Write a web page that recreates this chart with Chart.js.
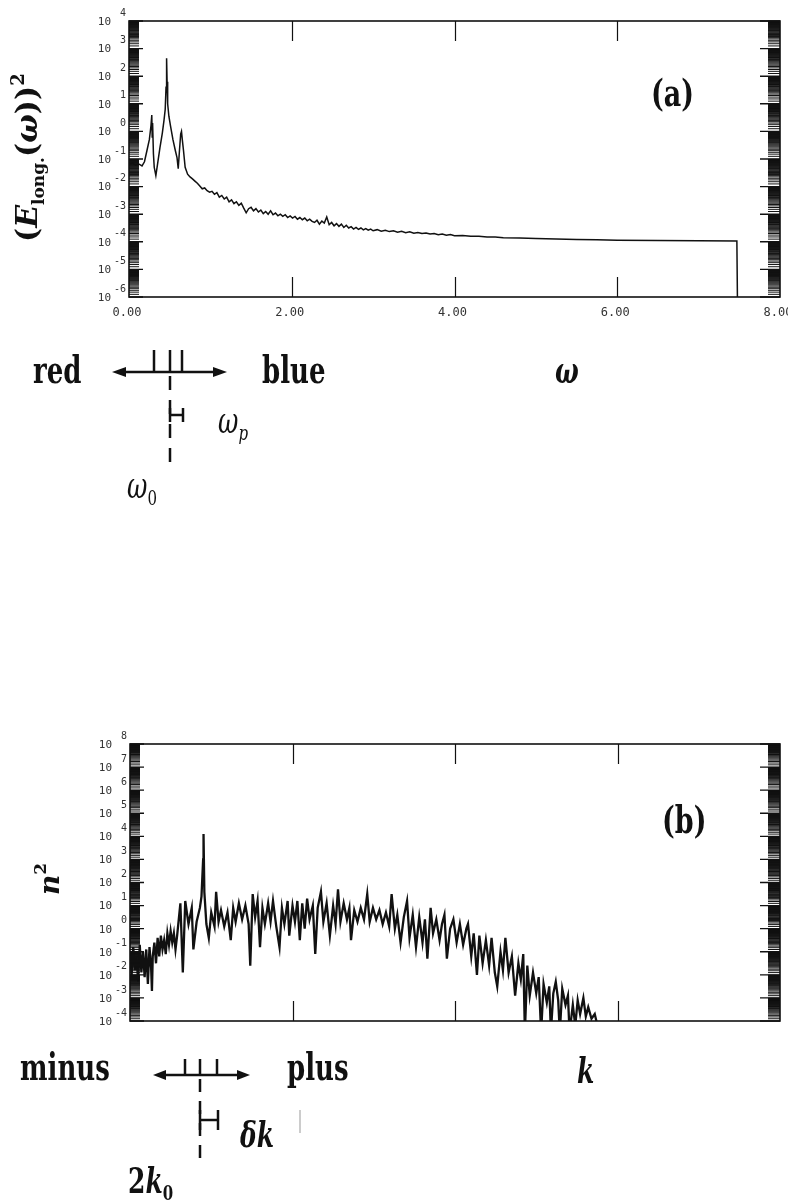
<!DOCTYPE html>
<html>
<head>
<meta charset="utf-8">
<script src="https://cdn.jsdelivr.net/npm/chart.js@4.4.1/dist/chart.umd.min.js"></script>
<style>
body { margin: 0; background: #fff; }
#page { position: relative; width: 788px; height: 1201px; overflow: hidden; background: #fff; }
canvas { position: absolute; left: 0; }
svg { position: absolute; left: 0; top: 0; }
.t { position: absolute; font-family: "DejaVu Serif", serif; font-weight: bold; line-height: 1;
     white-space: nowrap; transform-origin: 0 0; transform: scaleY(1.4); color: #111; }
.i { font-style: italic; }
.r { font-weight: normal; }
</style>
</head>
<body>
<div id="page">
<canvas id="chartA" width="788" height="330" style="top:0"></canvas>
<canvas id="chartB" width="788" height="320" style="top:720px"></canvas>

<svg width="788" height="1201">
  <g stroke="#111" stroke-width="2.5" fill="#111">
    <!-- (a) red/blue arrow -->
    <line x1="122" y1="372" x2="217" y2="372"/>
    <polygon points="112,372 126,367 126,377" stroke="none"/>
    <polygon points="227,372 213,367 213,377" stroke="none"/>
    <line x1="154" y1="350" x2="154" y2="372"/>
    <line x1="170" y1="350" x2="170" y2="372"/>
    <line x1="182" y1="350" x2="182" y2="372"/>
    <line x1="170" y1="376" x2="170" y2="472" stroke-dasharray="14 10"/>
    <line x1="170" y1="408" x2="170" y2="422"/>
    <line x1="183" y1="408" x2="183" y2="422"/>
    <line x1="170" y1="415" x2="183" y2="415"/>
    <!-- (b) minus/plus arrow -->
    <line x1="163" y1="1075" x2="240" y2="1075"/>
    <polygon points="153,1075 166,1070 166,1080" stroke="none"/>
    <polygon points="250,1075 237,1070 237,1080" stroke="none"/>
    <line x1="185" y1="1059" x2="185" y2="1075"/>
    <line x1="200" y1="1059" x2="200" y2="1075"/>
    <line x1="217" y1="1059" x2="217" y2="1075"/>
    <line x1="200" y1="1079" x2="200" y2="1167" stroke-dasharray="13 9"/>
    <line x1="200" y1="1110" x2="200" y2="1130"/>
    <line x1="218" y1="1110" x2="218" y2="1130"/>
    <line x1="200" y1="1120" x2="218" y2="1120"/>
  </g>
  <line x1="300" y1="1110" x2="300" y2="1133" stroke="#999" stroke-width="1"/>
</svg>

<div class="t" style="left:651px;top:74px;font-size:27px">(a)</div>
<div class="t" style="left:662px;top:801px;font-size:27px">(b)</div>

<div class="t" style="left:33px;top:352px;font-size:26px">red</div>
<div class="t" style="left:262px;top:352px;font-size:26px">blue</div>
<div class="t i" style="left:555px;top:354px;font-size:25px">ω</div>
<div class="t i r" style="left:218px;top:404px;font-size:25px">ω<span style="font-size:15px;position:relative;top:5px">p</span></div>
<div class="t i r" style="left:127px;top:469px;font-size:25px">ω<span style="font-size:15px;position:relative;top:5px;font-style:normal">0</span></div>

<div class="t" style="left:20px;top:1049px;font-size:26px">minus</div>
<div class="t" style="left:287px;top:1049px;font-size:26px">plus</div>
<div class="t i" style="left:577px;top:1054px;font-size:25px">k</div>
<div class="t i" style="left:240px;top:1118px;font-size:25px">δk</div>
<div class="t" style="left:128px;top:1164px;font-size:25px">2<span class="i">k</span><span style="font-size:15px;position:relative;top:5px">0</span></div>

<div class="t" style="left:0;top:0;font-size:30px;transform:translate(12px,242px) rotate(-90deg)">(<span class="i">E</span><span style="font-size:17px;position:relative;top:7px">long.</span>(<span class="i">ω</span>))<span style="font-size:18px;position:relative;top:-13px">2</span></div>
<div class="t i" style="left:0;top:0;font-size:28px;transform:translate(36px,895px) rotate(-90deg)">n<span style="font-size:17px;position:relative;top:-13px;font-style:normal">2</span></div>
</div>

<script>
// panel (a): longitudinal field spectrum, log10 of (E_long(w))^2
const omegaVals = [
  0.00, 0.04, 0.08, 0.12, 0.16, 0.19, 0.22, 0.25, 0.27, 0.28,
  0.285, 0.29, 0.30, 0.31, 0.33, 0.35, 0.38, 0.41, 0.43, 0.445,
  0.455, 0.462, 0.468, 0.475, 0.49, 0.51, 0.54, 0.57, 0.59, 0.605,
  0.62, 0.635, 0.645, 0.655, 0.67, 0.69, 0.72, 0.75, 0.78, 0.81,
  0.84, 0.87,
  0.90, 0.93, 0.96, 0.99, 1.02, 1.05, 1.08, 1.11, 1.14, 1.17,
  1.20, 1.23, 1.26, 1.29, 1.32, 1.35, 1.38, 1.41, 1.44, 1.47,
  1.50, 1.53, 1.56, 1.59, 1.62, 1.65, 1.68, 1.71, 1.74, 1.77,
  1.80, 1.83, 1.86, 1.89, 1.92, 1.95, 1.98, 2.01, 2.04, 2.07,
  2.10, 2.13, 2.16, 2.19, 2.22, 2.25, 2.28, 2.31, 2.34, 2.37,
  2.40, 2.43, 2.46, 2.49, 2.52, 2.55, 2.58, 2.61, 2.64, 2.67,
  2.70, 2.73, 2.76, 2.79, 2.82, 2.85, 2.88, 2.91, 2.94, 2.97,
  3.00, 3.05, 3.10, 3.15, 3.20, 3.25, 3.30, 3.35, 3.40, 3.45,
  3.50, 3.55, 3.60, 3.65, 3.70, 3.75, 3.80, 3.85, 3.90, 3.95,
  4.00, 4.10, 4.20, 4.30, 4.40, 4.50, 4.60, 4.80, 5.00, 5.25,
  5.50, 5.75, 6.00, 6.50, 7.00, 7.47, 7.48
];
const eLongExp = [
  -1.20, -1.15, -1.22, -1.18, -1.25, -1.10, -0.70, -0.30, 0.20, 0.59,
  -0.20, 0.30, -0.80, -1.30, -1.60, -1.20, -0.60, -0.05, 0.40, 0.80,
  1.60, 2.65, 1.80, 1.00, 0.55, 0.20, -0.30, -0.70, -0.95, -1.35,
  -0.70, -0.10, 0.00, -0.30, -0.70, -1.30, -1.55, -1.65, -1.72, -1.80,
  -1.88, -1.98,
  -2.08, -2.05, -2.15, -2.20, -2.17, -2.28, -2.22, -2.38, -2.32, -2.45,
  -2.38, -2.55, -2.48, -2.62, -2.55, -2.68, -2.60, -2.78, -2.95, -2.80,
  -2.75, -2.88, -2.80, -2.92, -2.85, -2.98, -2.90, -3.00, -2.88, -3.02,
  -2.96, -3.06, -3.00, -3.08, -3.02, -3.12, -3.06, -3.14, -3.08, -3.18,
  -3.12, -3.20, -3.14, -3.24, -3.18, -3.26, -3.30, -3.22, -3.36, -3.25,
  -3.32, -3.10, -3.38, -3.30, -3.42, -3.34, -3.44, -3.36, -3.48, -3.40,
  -3.50, -3.45, -3.54, -3.48, -3.55, -3.50, -3.57, -3.52, -3.58, -3.54,
  -3.60, -3.56, -3.62, -3.58, -3.63, -3.60, -3.65, -3.62, -3.67, -3.64,
  -3.69, -3.66, -3.70, -3.68, -3.72, -3.70, -3.74, -3.72, -3.76, -3.74,
  -3.78, -3.77, -3.80, -3.80, -3.83, -3.83, -3.85, -3.86, -3.88, -3.90,
  -3.92, -3.93, -3.94, -3.95, -3.96, -3.97, -7.00
];

// panel (b): density fluctuation spectrum, log10 of n^2
const kVals = [
  0.00, 0.02, 0.04, 0.06, 0.08, 0.10, 0.12, 0.14, 0.16, 0.18,
  0.20, 0.22, 0.24, 0.26, 0.27, 0.28, 0.30, 0.32, 0.34, 0.36,
  0.38, 0.40, 0.42, 0.44, 0.46, 0.48, 0.50, 0.52, 0.54, 0.56,
  0.58, 0.62, 0.65, 0.68, 0.72,
  0.76, 0.78, 0.82, 0.86, 0.88, 0.90, 0.905, 0.915, 0.94, 0.97,
  1.00, 1.04, 1.06, 1.09, 1.12, 1.16, 1.20, 1.24, 1.27, 1.30,
  1.34, 1.38, 1.42, 1.46, 1.48, 1.51, 1.54, 1.57, 1.60, 1.63,
  1.66, 1.70, 1.73, 1.76, 1.80, 1.84, 1.87, 1.90, 1.94, 1.96,
  2.00, 2.03, 2.06, 2.09, 2.12, 2.15, 2.18, 2.21, 2.25, 2.28,
  2.31, 2.35, 2.38, 2.42, 2.46, 2.50, 2.53, 2.56, 2.59, 2.63,
  2.67, 2.70, 2.72, 2.76, 2.80, 2.84, 2.88, 2.92, 2.95, 2.99,
  3.03, 3.07, 3.11, 3.15, 3.19, 3.22, 3.26, 3.29, 3.33, 3.37,
  3.41, 3.44, 3.48, 3.52, 3.56, 3.60, 3.63, 3.66, 3.70, 3.73,
  3.77, 3.81, 3.84, 3.87, 3.90, 3.94, 3.98, 4.02, 4.06, 4.10,
  4.14, 4.16, 4.20, 4.23, 4.27, 4.30, 4.34, 4.38, 4.42, 4.45,
  4.49, 4.52, 4.56, 4.59, 4.62, 4.66, 4.70, 4.74, 4.78, 4.81,
  4.84, 4.86, 4.89, 4.92, 4.96, 5.00, 5.03, 5.06, 5.09, 5.13,
  5.16, 5.18, 5.21, 5.24, 5.27, 5.29, 5.32, 5.36, 5.39, 5.41,
  5.45, 5.48, 5.51, 5.54, 5.58, 5.61, 5.64, 5.68, 5.72, 5.76
];
const nSqExp = [
  -1.0, -2.0, -0.8, -1.8, -1.2, -2.3, -0.7, -1.9, -1.0, -2.1,
  -0.9, -2.4, -0.8, -1.7, -2.7, -1.2, -0.6, -1.5, -0.4, -1.2,
  -0.3, -0.9, -0.5, -1.1, -0.2, -0.7, -0.1, -0.6, -0.2, -0.9,
  -0.3, 1.1, -1.9, 1.2, 0.2,
  0.9, -0.9, 0.3, 0.9, 1.4, 3.0, 4.1, 1.6, 0.2, -0.4,
  0.7, 0.1, 1.6, 0.3, 0.8, 0.1, 0.7, -0.5, 0.9, 0.3,
  1.1, 0.4, 1.0, 0.2, -1.6, 1.5, 0.5, 1.2, -0.8, 0.9,
  0.2, 1.1, 0.3, 1.2, 0.1, -0.8, 0.9, 0.2, 1.2, -0.3,
  1.0, 0.3, 1.2, -0.5, 1.1, 0.0, 1.3, 0.4, 1.0, -1.1,
  0.9, 1.6, 0.3, 1.1, -0.3, 1.0, 0.2, 1.7, 0.3, 1.1,
  0.4, 0.9, -0.5, 0.8, 0.3, 0.9, 0.4, 1.5, 0.3, 0.9,
  0.4, 0.8, 0.2, 0.7, 0.1, 1.5, 0.0, 0.6, -0.6, 0.5,
  1.2, -0.4, 0.6, -0.8, 0.5, -0.6, 0.4, -1.3, 0.9, -0.2,
  0.4, -0.5, 0.2, 0.6, -1.3, 0.0, 0.4, -0.6, 0.2, -0.7,
  0.0, 0.2, -1.2, -0.2, -2.0, -0.3, -1.5, -0.5, -1.6, -0.4,
  -1.9, -2.5, -1.0, -1.8, -0.4, -1.9, -1.2, -2.9, -1.5, -2.2,
  -1.1, -4.5, -1.6, -2.9, -1.9, -2.8, -2.1, -4.5, -2.4, -3.2,
  -2.5, -4.5, -2.8, -2.3, -3.1, -4.5, -2.6, -3.3, -2.9, -4.5,
  -3.3, -4.2, -3.1, -3.7, -3.0, -3.8, -3.4, -3.9, -3.7, -4.3
];

// axis decorations
const xMajorTicks = [2, 4, 6];
const xTickValsA = [0, 2, 4, 6, 8];
const xTickLabelsA = ['0.00', '2.00', '4.00', '6.00', '8.00'];
const decadesA = [-6, -5, -4, -3, -2, -1, 0, 1, 2, 3, 4];
const decadesB = [-4, -3, -2, -1, 0, 1, 2, 3, 4, 5, 6, 7, 8];

const axisDecor = {
    id: 'axisDecor',
    afterDatasetsDraw(chart, args, o) {
        const ctx = chart.ctx;
        const a = chart.chartArea;
        const xs = chart.scales.x, ys = chart.scales.y;
        ctx.save();
        ctx.strokeStyle = '#111';
        ctx.lineWidth = 1.6;
        ctx.strokeRect(a.left, a.top, a.right - a.left, a.bottom - a.top);

        ctx.lineWidth = 1.2;
        ctx.beginPath();
        xMajorTicks.forEach(v => {
            const px = Math.round(xs.getPixelForValue(v)) + 0.5;
            ctx.moveTo(px, a.top); ctx.lineTo(px, a.top + 20);
            ctx.moveTo(px, a.bottom); ctx.lineTo(px, a.bottom - 20);
        });
        ctx.stroke();

        ctx.fillStyle = '#333';
        ctx.textBaseline = 'middle';
        o.decades.forEach((d, i) => {
            const py = ys.getPixelForValue(Math.pow(10, d));
            ctx.lineWidth = 1.4;
            ctx.beginPath();
            ctx.moveTo(a.left, py); ctx.lineTo(a.left + 14, py);
            ctx.moveTo(a.right, py); ctx.lineTo(a.right - 20, py);
            ctx.stroke();
            if (i < o.decades.length - 1) {
                ctx.lineWidth = 1;
                ctx.beginPath();
                for (let m = 1.25; m < 10; m += 0.25) {
                    const my = ys.getPixelForValue(m * Math.pow(10, d));
                    ctx.moveTo(a.left, my); ctx.lineTo(a.left + 10, my);
                    ctx.moveTo(a.right, my); ctx.lineTo(a.right - 12, my);
                }
                ctx.stroke();
            }
            ctx.textAlign = 'right';
            ctx.font = '11px "DejaVu Sans Mono"';
            ctx.fillText('10', a.left - 18, py + 1);
            ctx.font = '10px "DejaVu Sans Mono"';
            ctx.fillText(String(d), a.left - 3, py - 8);
        });

        if (o.xLabels) {
            ctx.font = '12px "DejaVu Sans Mono"';
            ctx.textAlign = 'center';
            o.xVals.forEach((v, i) => {
                ctx.fillText(o.xLabels[i], xs.getPixelForValue(v) - 2, a.bottom + 16);
            });
        }
        ctx.restore();
    }
};

function makeChart(id, xs, exps, yMin, yMax, pad, width, decor) {
    const ctx = document.getElementById(id).getContext('2d');
    return new Chart(ctx, {
        type: 'line',
        data: {
            datasets: [{
                data: xs.map((x, i) => ({ x: x, y: Math.pow(10, exps[i]) })),
                borderColor: '#111',
                borderWidth: width,
                pointRadius: 0,
                tension: 0,
                fill: false
            }]
        },
        options: {
            responsive: false,
            animation: false,
            layout: { padding: pad },
            plugins: { legend: { display: false }, tooltip: { enabled: false }, axisDecor: decor },
            scales: {
                x: { type: 'linear', min: 0, max: 8, display: false },
                y: { type: 'logarithmic', min: yMin, max: yMax, display: false }
            }
        },
        plugins: [axisDecor]
    });
}

makeChart('chartA', omegaVals, eLongExp, 1e-6, 1e4,
    { left: 129, top: 21, right: 8, bottom: 33 }, 1.5,
    { decades: decadesA, xLabels: xTickLabelsA, xVals: xTickValsA });

makeChart('chartB', kVals, nSqExp, 1e-4, 1e8,
    { left: 130, top: 24, right: 8, bottom: 19 }, 2.3,
    { decades: decadesB });
</script>
</body>
</html>
